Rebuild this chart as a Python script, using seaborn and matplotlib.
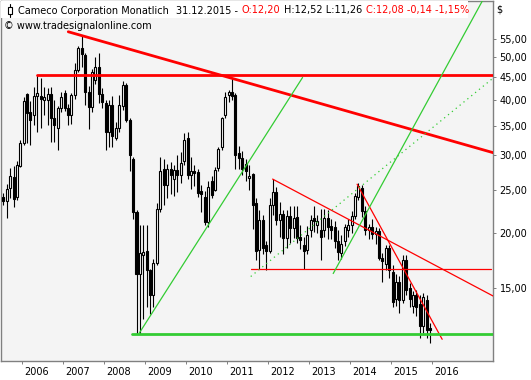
import pandas as pd
import matplotlib
matplotlib.use("Agg")
import matplotlib.pyplot as plt
from matplotlib.patches import Rectangle
from matplotlib.ticker import FixedLocator, FixedFormatter, NullLocator
from matplotlib.transforms import ScaledTranslation
import seaborn as sns

# monthly candles, Jul 2005 .. Dec 2015 (USD)
opens = [24.2, 23.6, 25.3, 26.8, 24.1, 28.4,
         32.0, 41.2, 37.5, 37.0, 40.9, 40.9, 40.1, 40.1, 41.2, 36.5, 34.6, 38.3,
         41.6, 38.3, 37.0, 41.0, 46.8, 52.4, 50.5, 41.8, 38.5, 44.4, 47.5, 41.3,
         39.3, 33.9, 39.0, 32.8, 34.6, 38.7, 43.2, 36.1, 29.4, 22.3, 16.2, 17.8,
         18.2, 16.5, 14.5, 17.1, 22.7, 28.0, 25.7, 28.0, 26.5, 27.8, 27.0, 29.1,
         32.9, 27.0, 27.6, 27.5, 24.9, 24.2, 21.2, 26.3, 25.0, 28.1, 31.3, 37.0,
         41.1, 41.8, 41.1, 30.3, 29.5, 28.6, 26.6, 27.2, 23.4, 18.3, 21.4, 18.8,
         18.2, 23.1, 24.8, 21.4, 22.1, 19.5, 21.9, 20.5, 21.8, 19.6, 18.8, 18.3,
         20.3, 21.6, 20.9, 20.3, 20.3, 21.6, 20.7, 20.6, 19.2, 18.0, 19.2, 20.3,
         20.9, 21.9, 24.2, 25.3, 22.4, 20.3, 20.6, 19.9, 20.2, 17.6, 17.0, 18.5,
         16.3, 14.2, 15.5, 14.1, 17.4, 15.0, 13.7, 14.5, 13.8, 12.3, 14.1, 12.20]
highs = [24.6, 25.8, 28.1, 28.3, 29.1, 32.5,
         40.6, 41.5, 39.8, 42.9, 45.5, 44.9, 42.9, 42.5, 42.9, 40.0, 38.8, 41.8,
         42.2, 39.2, 41.5, 48.6, 52.9, 56.1, 51.1, 43.0, 47.0, 50.0, 51.1, 42.5,
         40.0, 40.0, 40.8, 35.7, 41.1, 44.1, 43.8, 36.4, 29.7, 22.6, 20.9, 20.9,
         20.9, 16.6, 17.5, 23.4, 29.7, 29.4, 28.6, 29.0, 28.5, 30.1, 30.5, 33.7,
         33.8, 29.7, 28.5, 27.9, 25.7, 24.9, 26.2, 26.9, 28.2, 31.3, 36.7, 41.8,
         42.2, 44.9, 41.5, 31.5, 30.6, 29.4, 28.5, 27.3, 24.0, 22.6, 22.0, 19.2,
         24.0, 26.5, 25.4, 23.5, 22.6, 22.5, 23.0, 23.0, 23.0, 20.9, 19.6, 20.7,
         22.0, 23.0, 22.0, 22.7, 22.7, 22.6, 21.5, 21.3, 20.3, 19.8, 21.0, 21.5,
         22.4, 24.6, 26.0, 25.7, 23.0, 21.0, 21.5, 20.6, 20.5, 18.0, 18.8, 18.8,
         16.9, 16.2, 16.0, 17.8, 17.8, 15.4, 14.8, 14.9, 14.5, 14.6, 14.5, 12.52]
lows = [23.1, 21.6, 24.0, 22.9, 23.8, 28.2,
        31.6, 32.0, 31.6, 35.1, 33.9, 34.5, 37.0, 35.1, 32.2, 32.1, 30.8, 37.6,
        37.8, 35.1, 35.3, 40.3, 46.3, 47.5, 39.0, 34.4, 37.5, 43.6, 39.3, 38.3,
        30.8, 31.3, 31.3, 32.5, 33.9, 38.0, 35.7, 27.6, 21.5, 11.8, 11.8, 12.8,
        13.6, 13.1, 13.6, 16.9, 22.3, 23.1, 24.0, 24.5, 24.3, 24.8, 26.0, 28.5,
        26.5, 25.2, 25.5, 24.1, 22.3, 20.9, 20.6, 24.0, 24.9, 27.6, 30.8, 36.4,
        39.6, 40.0, 28.0, 28.0, 27.1, 26.2, 25.0, 20.4, 17.4, 16.6, 17.9, 16.5,
        18.0, 22.0, 20.9, 19.6, 17.9, 18.5, 19.0, 19.5, 19.0, 18.4, 16.6, 17.9,
        19.6, 20.1, 20.0, 17.4, 19.6, 19.4, 19.4, 18.5, 17.4, 17.5, 18.7, 19.6,
        20.0, 21.5, 23.8, 21.8, 19.8, 19.4, 19.4, 18.9, 17.4, 15.5, 16.5, 15.8,
        13.6, 13.7, 13.2, 13.9, 14.5, 13.6, 13.2, 13.0, 11.6, 11.9, 11.6, 11.26]
closes = [23.6, 25.2, 26.9, 23.9, 28.5, 32.0,
          39.8, 37.3, 36.1, 40.9, 41.5, 40.2, 40.7, 41.2, 36.5, 35.1, 38.3, 40.7,
          38.3, 37.0, 41.1, 46.8, 52.4, 50.9, 41.8, 38.5, 46.2, 47.5, 41.3, 39.6,
          33.9, 39.0, 33.1, 34.6, 39.0, 43.3, 36.1, 30.0, 22.3, 16.2, 18.0, 18.1,
          16.5, 14.5, 17.1, 22.7, 27.6, 25.7, 27.9, 27.0, 27.8, 27.0, 28.8, 32.5,
          27.0, 27.6, 27.3, 24.6, 24.5, 21.2, 25.4, 24.4, 27.8, 31.0, 36.4, 40.7,
          41.8, 40.9, 30.0, 29.5, 28.0, 27.6, 26.9, 23.1, 18.2, 21.4, 18.5, 18.2,
          23.2, 24.8, 21.4, 22.1, 19.5, 21.9, 20.5, 21.6, 19.5, 19.3, 18.2, 19.8,
          21.4, 21.3, 21.3, 19.6, 21.6, 20.6, 20.3, 19.2, 18.1, 18.9, 20.6, 20.9,
          21.9, 24.3, 25.5, 22.4, 20.3, 20.6, 19.9, 20.2, 17.6, 17.3, 18.5, 16.5,
          14.0, 15.5, 14.1, 17.4, 14.9, 14.2, 14.5, 13.6, 12.3, 14.3, 12.1, 12.08]

# trend lines: start date/price -> end date/price
line_x0 = ["2006-05-08", "2007-02-15", "2012-02-10", "2014-03-04", "2011-07-30",
           "2008-09-07", "2008-11-08", "2013-08-03", "2011-07-30"]
line_y0 = [45.5, 57.1, 26.5, 25.8, 16.6, 11.8, 11.87, 16.2, 15.95]
line_x1 = ["2017-12-31", "2017-06-30", "2017-06-30", "2016-03-31", "2017-06-10",
           "2017-12-31", "2012-11-03", "2017-03-29", "2017-06-30"]
line_y1 = [45.5, 30.4, 14.4, 11.5, 16.6, 11.8, 45.0, 67.4, 44.9]

price_ticks = [15, 20, 25, 30, 35, 40, 45, 50, 55]
years = list(range(2006, 2017))

RED = "#ff0000"
GREEN = "#33cc33"
line_style = [(RED, 2.0, "-"), (RED, 2.0, "-"), (RED, 0.9, "-"), (RED, 0.9, "-"),
              (RED, 0.9, "-"), (GREEN, 2.0, "-"), (GREEN, 0.9, "-"),
              (GREEN, 0.9, "-"), (GREEN, 0.9, (0, (1, 3)))]

sns.set_theme(style="white")
plt.rcParams['font.family'] = ['DejaVu Sans']
FS = 7

W, H = 531, 380
fig = plt.figure(figsize=(W / 100, H / 100), dpi=100)
fig.patch.set_facecolor("white")
ax = fig.add_axes([0.5 / W, 1 - 361 / H, 492.5 / W, 360.5 / H])
ax.set_facecolor("#f4f4f4")

df = pd.DataFrame({"date": pd.date_range("2005-07-01", periods=len(closes), freq="MS")
                   + pd.Timedelta(days=14),
                   "open": opens, "high": highs, "low": lows, "close": closes})
up = df["close"] >= df["open"]

ax.vlines(df["date"], df["low"], df["high"], color="black", lw=0.8, zorder=2)
ax.bar(df["date"][up], (df["close"] - df["open"])[up], bottom=df["open"][up],
       width=18, color="white", edgecolor="black", lw=0.8, zorder=3)
ax.bar(df["date"][~up], (df["open"] - df["close"])[~up], bottom=df["close"][~up],
       width=18, color="black", edgecolor="black", lw=0.8, zorder=3)

for i in range(len(line_x0)):
    col, lw, ls = line_style[i]
    sns.lineplot(x=pd.to_datetime([line_x0[i], line_x1[i]]), y=[line_y0[i], line_y1[i]],
                 ax=ax, color=col, lw=lw, linestyle=ls, zorder=4)

ax.set_yscale("log")
ax.set_ylim(10.27, 67.2)
x_left = pd.Timestamp("2006-01-01") - pd.Timedelta(days=194)
x_right = pd.Timestamp("2006-01-01") + pd.Timedelta(days=4195)
ax.set_xlim(x_left, x_right)

ax.yaxis.tick_right()
ax.yaxis.set_major_locator(FixedLocator(price_ticks))
ax.yaxis.set_major_formatter(FixedFormatter([f"{p},00" for p in price_ticks]))
ax.yaxis.set_minor_locator(NullLocator())
ax.xaxis.set_major_locator(FixedLocator([matplotlib.dates.date2num(pd.Timestamp(f"{y}-01-01"))
                                         for y in years]))
ax.xaxis.set_major_formatter(FixedFormatter([str(y) for y in years]))
ax.xaxis.set_minor_locator(NullLocator())
ax.tick_params(axis="y", which="major", right=True, left=False, length=2.4, width=0.7,
               color="#808080", pad=2.4, labelsize=FS, labelcolor="black")
ax.tick_params(axis="x", which="major", bottom=True, length=2.5, width=0.7,
               color="#808080", pad=1.5, labelsize=FS, labelcolor="black")
for lab in ax.get_xticklabels():
    lab.set_horizontalalignment("left")
    lab.set_transform(lab.get_transform() + ScaledTranslation(2 / 100, 0, fig.dpi_scale_trans))
for s in ax.spines.values():
    s.set_color("#808080")
    s.set_linewidth(1.0)
ax.set_xlabel("")
ax.set_ylabel("")
ax.grid(False)

# header
fig.patches.append(Rectangle((1 / W, 1 - 18 / H), 467 / W, 17 / H, transform=fig.transFigure,
                             facecolor="white", edgecolor="none", zorder=5))
fig.patches.append(Rectangle((8 / W, 1 - 14 / H), 4 / W, 7 / H, transform=fig.transFigure,
                             facecolor="white", edgecolor="black", lw=0.8, zorder=6))
fig.lines.append(plt.Line2D([10 / W, 10 / W], [1 - 17 / H, 1 - 4 / H], transform=fig.transFigure,
                            color="black", lw=0.8, zorder=5.5))
fig.canvas.draw()
renderer = fig.canvas.get_renderer()
segments = [("Cameco Corporation Monatlich", "black", 8), ("31.12.2015 -", "black", 3.5),
            ("O:12,20", "red", 3.5), ("H:12,52 L:11,26", "black", 3.5),
            ("C:12,08 -0,14 -1,15%", "red", 0)]
xpos = 17.5
for txt, col, gap in segments:
    t = fig.text(xpos / W, 1 - 10.5 / H, txt, color=col, fontsize=FS, ha="left",
                 va="center", zorder=7)
    xpos += t.get_window_extent(renderer).width + gap
fig.text(4 / W, 1 - 26 / H, "\u00a9 www.tradesignalonline.com", color="black",
         fontsize=FS, ha="left", va="center", zorder=7)
fig.text(496 / W, 1 - 10 / H, "$", color="black", fontsize=FS, ha="left", va="center")

fig.savefig("out.png", dpi=100)
